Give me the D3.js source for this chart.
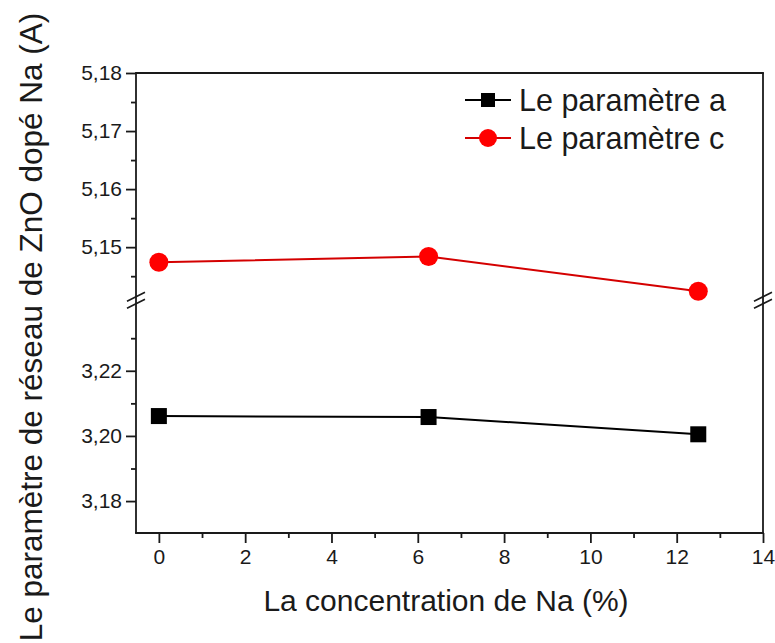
<!DOCTYPE html>
<html>
<head>
<meta charset="utf-8">
<script src="https://cdn.jsdelivr.net/npm/d3@7"></script>
<style>
  html, body { margin: 0; padding: 0; background: #fff; }
  svg { display: block; font-family: "Liberation Sans", Arial, sans-serif; }
  .tick text { fill: #1a1a1a; }
</style>
</head>
<body>
<svg id="chart" width="775" height="643"></svg>
<script>
// Na concentration (%) and ZnO lattice parameters (Å)
const concentration = [0, 6.25, 12.5];
const paramA = [3.2061, 3.2058, 3.2005];
const paramC = [5.1474, 5.1484, 5.1424];

// axis ticks
const xMajorTicks = [0, 2, 4, 6, 8, 10, 12, 14];
const xMinorTicks = [1, 3, 5, 7, 9, 11, 13];
const cMajorTicks = [5.15, 5.16, 5.17, 5.18];
const cMinorTicks = [5.145, 5.155, 5.165, 5.175];
const aMajorTicks = [3.18, 3.20, 3.22];
const aMinorTicks = [3.19, 3.21, 3.23];

const legendLabels = ["Le paramètre a", "Le paramètre c"];
const xTitle = "La concentration de Na (%)";
const yTitle = "Le paramètre de réseau de ZnO dopé Na (A)";

const svg = d3.select("#chart");
const plotLeft = 136, plotRight = 763, plotTop = 73, plotBottom = 533;
const upperBottom = 296.5, lowerTop = 304;
const axisColor = "#1a1a1a";

const fr = d3.formatLocale({ decimal: ",", thousands: ".", grouping: [3], currency: ["", ""] });
const fmt2 = fr.format(".2f");

const x = d3.scaleLinear().domain([-0.53, 14]).range([plotLeft, plotRight]);
const yC = d3.scaleLinear().domain([5.1415, 5.18]).range([upperBottom, plotTop]);
const yA = d3.scaleLinear().domain([3.1702, 3.2405]).range([plotBottom, lowerTop]);

// frame
const frame = svg.append("g").attr("stroke", axisColor).attr("stroke-width", 1.8).attr("fill", "none");
frame.append("line").attr("x1", plotLeft).attr("x2", plotLeft).attr("y1", plotTop).attr("y2", plotBottom);
frame.append("line").attr("x1", plotRight).attr("x2", plotRight).attr("y1", plotTop).attr("y2", plotBottom);
frame.append("line").attr("x1", plotLeft - 0.9).attr("x2", plotRight + 0.9).attr("y1", plotTop).attr("y2", plotTop);
frame.append("line").attr("x1", plotLeft - 0.9).attr("x2", plotRight + 0.9).attr("y1", plotBottom).attr("y2", plotBottom);

function styleAxis(g) {
  g.select(".domain").remove();
  g.selectAll(".tick line").attr("stroke", axisColor).attr("stroke-width", 1.8);
  g.selectAll(".tick text").attr("font-size", 21).attr("font-family", "Liberation Sans, Arial, sans-serif");
}

// left axis, upper (parameter c)
svg.append("g").attr("transform", `translate(${plotLeft},0)`)
  .call(d3.axisLeft(yC).tickValues(cMajorTicks).tickSize(10).tickPadding(4).tickFormat(fmt2))
  .call(styleAxis);
svg.append("g").attr("transform", `translate(${plotLeft},0)`)
  .call(d3.axisLeft(yC).tickValues(cMinorTicks).tickSize(5).tickFormat(""))
  .call(styleAxis);

// left axis, lower (parameter a)
svg.append("g").attr("transform", `translate(${plotLeft},0)`)
  .call(d3.axisLeft(yA).tickValues(aMajorTicks).tickSize(10).tickPadding(4).tickFormat(fmt2))
  .call(styleAxis);
svg.append("g").attr("transform", `translate(${plotLeft},0)`)
  .call(d3.axisLeft(yA).tickValues(aMinorTicks).tickSize(5).tickFormat(""))
  .call(styleAxis);

// bottom axis
svg.append("g").attr("transform", `translate(0,${plotBottom})`)
  .call(d3.axisBottom(x).tickValues(xMajorTicks).tickSize(10).tickPadding(6).tickFormat(d3.format("d")))
  .call(styleAxis);
svg.append("g").attr("transform", `translate(0,${plotBottom})`)
  .call(d3.axisBottom(x).tickValues(xMinorTicks).tickSize(5).tickFormat(""))
  .call(styleAxis);

// axis break marks on both vertical axes
const breakY = [(upperBottom + lowerTop) / 2 - 3.5, (upperBottom + lowerTop) / 2 + 3.5];
[plotLeft, plotRight].forEach(ax => {
  breakY.forEach(by => {
    svg.append("line")
      .attr("x1", ax - 9).attr("y1", by + 4.5)
      .attr("x2", ax + 9).attr("y2", by - 4.5)
      .attr("stroke", axisColor).attr("stroke-width", 1.6);
  });
});

// series a (black squares)
const lineA = d3.line().x((d, i) => x(concentration[i])).y(d => yA(d));
svg.append("path").datum(paramA)
  .attr("d", lineA).attr("fill", "none").attr("stroke", "#000").attr("stroke-width", 2);
const sq = 16;
svg.append("g").selectAll("rect").data(paramA).join("rect")
  .attr("x", (d, i) => x(concentration[i]) - sq / 2)
  .attr("y", d => yA(d) - sq / 2)
  .attr("width", sq).attr("height", sq).attr("fill", "#000");

// series c (red circles)
const lineC = d3.line().x((d, i) => x(concentration[i])).y(d => yC(d));
svg.append("path").datum(paramC)
  .attr("d", lineC).attr("fill", "none").attr("stroke", "#d40000").attr("stroke-width", 2);
svg.append("g").selectAll("circle").data(paramC).join("circle")
  .attr("cx", (d, i) => x(concentration[i]))
  .attr("cy", d => yC(d))
  .attr("r", 9.5).attr("fill", "#ff0000");

// legend
const legend = svg.append("g");
const legY = [100, 138];
legend.append("line").attr("x1", 465).attr("x2", 511).attr("y1", legY[0]).attr("y2", legY[0])
  .attr("stroke", "#000").attr("stroke-width", 2);
legend.append("rect").attr("x", 488 - 7).attr("y", legY[0] - 7).attr("width", 14).attr("height", 14).attr("fill", "#000");
legend.append("line").attr("x1", 465).attr("x2", 511).attr("y1", legY[1]).attr("y2", legY[1])
  .attr("stroke", "#d40000").attr("stroke-width", 2);
legend.append("circle").attr("cx", 488).attr("cy", legY[1]).attr("r", 9).attr("fill", "#ff0000");
legend.selectAll("text").data(legendLabels).join("text")
  .attr("x", 519).attr("y", (d, i) => legY[i] + 10.5)
  .attr("font-size", 30.5).attr("fill", "#1a1a1a").text(d => d);

// axis titles
svg.append("text")
  .attr("x", 446).attr("y", 611).attr("text-anchor", "middle")
  .attr("font-size", 30).attr("fill", "#1a1a1a").text(xTitle);
svg.append("text")
  .attr("transform", "translate(42,327) rotate(-90)")
  .attr("text-anchor", "middle")
  .attr("font-size", 31.5).attr("fill", "#1a1a1a").text(yTitle);
</script>
</body>
</html>
